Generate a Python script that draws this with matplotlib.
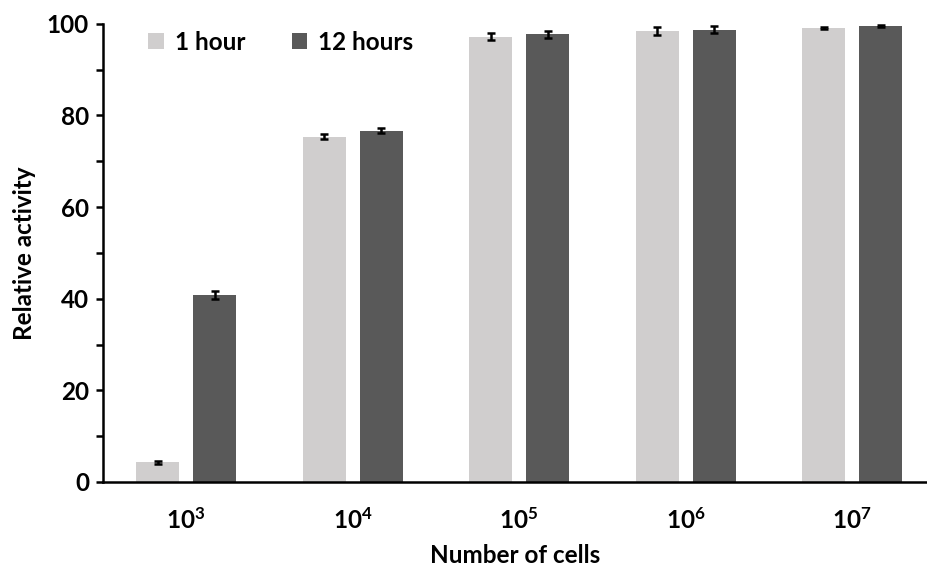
import matplotlib
matplotlib.use('Agg')
import matplotlib.pyplot as plt
import numpy as np

plt.rcParams['font.family'] = ['Lato', 'DejaVu Sans']
plt.rcParams['font.weight'] = 'bold'
plt.rcParams['mathtext.fontset'] = 'custom'
plt.rcParams['mathtext.rm'] = 'Lato:bold'
plt.rcParams['mathtext.bf'] = 'Lato:bold'

# data
exponents = [3, 4, 5, 6, 7]
one_hour = [4.3, 75.4, 97.2, 98.4, 99.1]
one_hour_err = [0.3, 0.6, 0.7, 0.8, 0.2]
twelve_hours = [40.8, 76.7, 97.7, 98.7, 99.5]
twelve_hours_err = [0.8, 0.6, 0.7, 0.8, 0.2]
series_names = ['1 hour', '12 hours']

fs = 17.5

fig = plt.figure(figsize=(9.27, 5.67), dpi=100)
ax = fig.add_axes([0.111, 0.15, 0.889, 0.808])

x = np.arange(len(exponents))
w = 0.258
off = 0.171
err_kw = dict(ecolor='black', elinewidth=1.8, capsize=3.2, capthick=1.8)
ax.bar(x - off, one_hour, w, yerr=one_hour_err, color='#D0CECE',
       label=series_names[0], error_kw=err_kw)
ax.bar(x + off, twelve_hours, w, yerr=twelve_hours_err, color='#595959',
       label=series_names[1], error_kw=err_kw)

ax.set_xlim(-0.5, 4.45)
ax.set_ylim(0, 100)
ax.set_yticks(np.arange(0, 101, 20))
ax.set_yticks(np.arange(10, 100, 20), minor=True)
ax.set_xticks(x)
ax.set_xticklabels([r'$\mathbf{10^{%d}}$' % e for e in exponents])

for s in ['top', 'right']:
    ax.spines[s].set_visible(False)
for s in ['left', 'bottom']:
    ax.spines[s].set_linewidth(1.8)
ax.tick_params(axis='y', which='both', direction='out', length=5, width=1.8,
               labelsize=fs, pad=5)
ax.tick_params(axis='x', length=0, labelsize=fs, pad=18)

ax.set_ylabel('Relative activity', fontsize=fs, fontweight='bold', labelpad=8)
ax.set_xlabel('Number of cells', fontsize=fs, fontweight='bold', labelpad=8)

ax.legend(loc='upper left', bbox_to_anchor=(0.055, 0.985), ncol=2, frameon=False,
          fontsize=fs, handlelength=0.65, handleheight=0.65, handletextpad=0.45,
          columnspacing=1.9, borderpad=0, borderaxespad=0)

plt.savefig('out.png', dpi=100)
